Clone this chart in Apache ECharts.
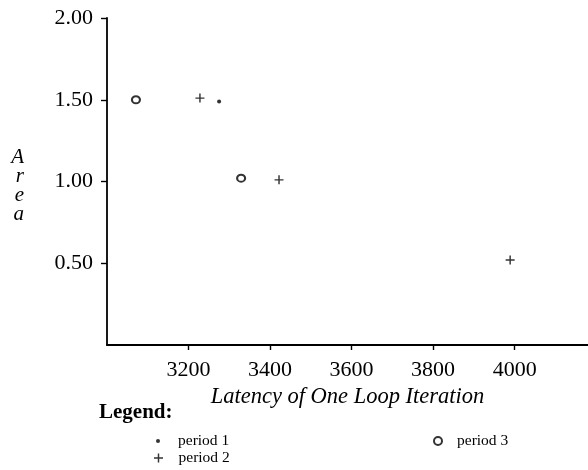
<!DOCTYPE html>
<html>
<head>
<meta charset="utf-8">
<script src="https://cdn.jsdelivr.net/npm/echarts@6/dist/echarts.min.js"></script>
<style>
  html, body { margin: 0; padding: 0; background: #fff; }
  #chart { width: 588px; height: 470px; }
</style>
</head>
<body>
<div id="chart"></div>
<script>
// data
var period1X = [3275]
var period1Y = [1.49]
var period2X = [3228, 3422, 3989]
var period2Y = [1.51, 1.01, 0.52]
var period3X = [3071, 3329]
var period3Y = [1.50, 1.02]

var xTicks = [3200, 3400, 3600, 3800, 4000]
var yTicks = [0.5, 1.0, 1.5, 2.0]

var seriesNames = ['period 1', 'period 2', 'period 3']

function pairs(xs, ys) {
  return xs.map(function (x, i) { return [x, ys[i]] })
}

var serif = 'Liberation Serif'
var ink = '#000'
var plusPath = 'path://M4.2,0H5.8V4.2H10V5.8H5.8V10H4.2V5.8H0V4.2H4.2Z'

var myChart = echarts.init(document.getElementById('chart'))

var legendText = { fontFamily: serif, fontSize: 15.5, color: ink }

var option = {
  backgroundColor: '#fff',
  animation: false,
  title: {
    text: 'Legend:',
    left: 99,
    top: 402,
    padding: 0,
    textStyle: { fontFamily: serif, fontSize: 21, fontWeight: 'bold', color: ink },
  },
  legend: [
    {
      data: [seriesNames[0]],
      left: 156,
      top: 433,
      padding: 0,
      itemWidth: 30,
      itemHeight: 4,
      selectedMode: false,
      textStyle: legendText,
    },
    {
      data: [seriesNames[1]],
      left: 154,
      top: 450,
      padding: 0,
      itemWidth: 30,
      itemHeight: 9,
      selectedMode: false,
      textStyle: legendText,
    },
    {
      data: [seriesNames[2]],
      left: 433,
      top: 433,
      padding: 0,
      itemWidth: 28,
      itemHeight: 8,
      selectedMode: false,
      textStyle: legendText,
    },
  ],
  grid: { left: 107, right: 0, top: 18, bottom: 125, containLabel: false },
  xAxis: {
    type: 'value',
    min: 3000,
    max: 4180,
    interval: 200,
    name: 'Latency of One Loop Iteration',
    nameLocation: 'middle',
    nameGap: 40,
    nameTextStyle: { fontFamily: serif, fontSize: 22.5, fontStyle: 'italic', color: ink },
    axisLine: { show: true, lineStyle: { color: ink, width: 1.8 } },
    axisTick: { show: true, length: 5, lineStyle: { color: ink, width: 1.4 }, customValues: xTicks },
    axisLabel: {
      margin: 14,
      fontFamily: serif,
      fontSize: 22,
      color: ink,
      customValues: xTicks,
      formatter: function (v) { return String(v) },
    },
    splitLine: { show: false },
  },
  yAxis: {
    type: 'value',
    min: 0,
    max: 2,
    interval: 0.5,
    // empty first row pushes the stacked letters down a little
    name: '{g| }\nA\nr\ne\na',
    nameLocation: 'middle',
    nameRotate: 0,
    nameGap: 83,
    nameTextStyle: {
      fontFamily: serif,
      fontSize: 21,
      fontStyle: 'italic',
      color: ink,
      lineHeight: 19,
      rich: { g: { fontSize: 8, lineHeight: 9 } },
    },
    axisLine: { show: true, lineStyle: { color: ink, width: 1.8 } },
    axisTick: { show: true, length: 6, lineStyle: { color: ink, width: 1.4 }, customValues: yTicks },
    axisLabel: {
      margin: 14,
      fontFamily: serif,
      fontSize: 22,
      color: ink,
      customValues: yTicks,
      formatter: function (v) { return v.toFixed(2) },
    },
    splitLine: { show: false },
  },
  series: [
    {
      name: seriesNames[0],
      type: 'scatter',
      symbol: 'circle',
      symbolSize: 4,
      itemStyle: { color: ink },
      data: pairs(period1X, period1Y),
    },
    {
      name: seriesNames[1],
      type: 'scatter',
      symbol: plusPath,
      symbolSize: 9,
      itemStyle: { color: ink },
      data: pairs(period2X, period2Y),
    },
    {
      name: seriesNames[2],
      type: 'scatter',
      symbol: 'emptyCircle',
      symbolSize: [8, 7],
      itemStyle: { color: ink, borderColor: ink, borderWidth: 1.4 },
      data: pairs(period3X, period3Y),
    },
  ],
}

myChart.setOption(option)
window.addEventListener('resize', function () {
  myChart.resize()
})
</script>
</body>
</html>
